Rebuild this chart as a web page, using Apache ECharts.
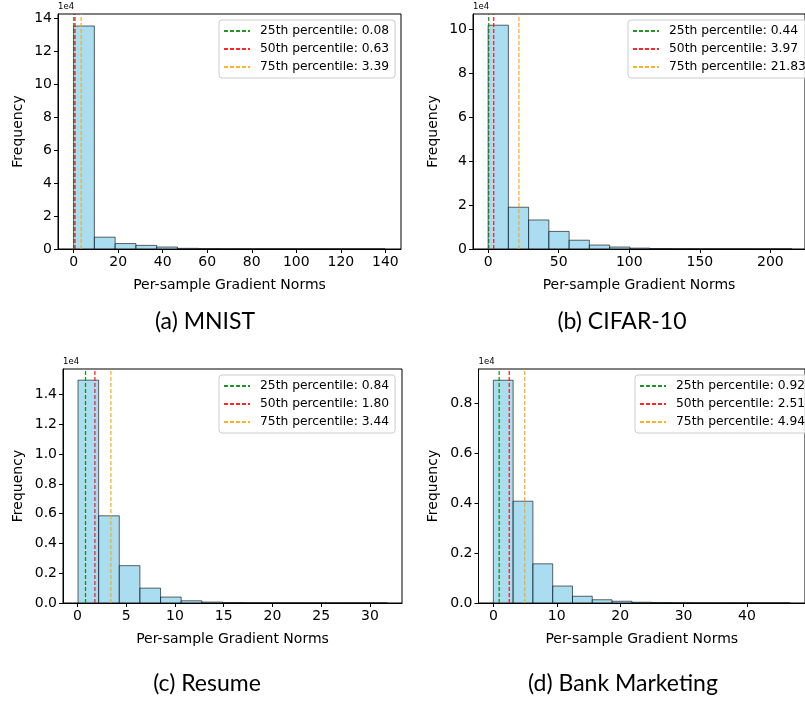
<!DOCTYPE html>
<html>
<head>
<meta charset="utf-8">
<script src="https://cdn.jsdelivr.net/npm/echarts@6/dist/echarts.min.js"></script>
<style>
  html, body { margin: 0; padding: 0; background: #fff; }
  #chart { width: 805px; height: 704px; }
</style>
</head>
<body>
<div id="chart"></div>
<script>
// panel captions
const captions = ["(a) MNIST", "(b) CIFAR-10", "(c) Resume", "(d) Bank Marketing"];

// histogram counts, in units of 1e4 (15 bins each)
const countsMnist = [13.55, 0.72, 0.33, 0.22, 0.12, 0.04, 0.02, 0.012, 0.008, 0.005, 0.004, 0.003, 0.002, 0.002, 0.001];
const countsCifar = [10.18, 1.90, 1.32, 0.80, 0.40, 0.18, 0.09, 0.04, 0.02, 0.01, 0.006, 0.004, 0.003, 0.002, 0.001];
const countsResume = [1.498, 0.586, 0.251, 0.100, 0.040, 0.015, 0.006, 0.003, 0.0015, 0.001, 0.0005, 0.0003, 0.0002, 0.0001, 0.0001];
const countsBank = [0.893, 0.408, 0.157, 0.068, 0.027, 0.013, 0.007, 0.003, 0.002, 0.001, 0.0005, 0.0003, 0.0002, 0.0001, 0.0001];

// first bin edge and bin width
const binStart = [0, 0, 0.07, 0];
const binWidth = [9.33, 14.35, 2.115, 3.12];

// 25th / 50th / 75th percentiles
const pctMnist = [0.08, 0.63, 3.39];
const pctCifar = [0.44, 3.97, 21.83];
const pctResume = [0.84, 1.80, 3.44];
const pctBank = [0.92, 2.51, 4.94];
const pctNames = ["25th percentile", "50th percentile", "75th percentile"];
const pctColors = ["#008000", "#ff0000", "#ffa500"];

// tick labels
const xTicksMnist = [0, 20, 40, 60, 80, 100, 120, 140];
const xTicksCifar = [0, 50, 100, 150, 200];
const xTicksResume = [0, 5, 10, 15, 20, 25, 30];
const xTicksBank = [0, 10, 20, 30, 40];
const yTicksMnist = [0, 2, 4, 6, 8, 10, 12, 14];
const yTicksCifar = [0, 2, 4, 6, 8, 10];
const yTicksResume = [0, 0.2, 0.4, 0.6, 0.8, 1.0, 1.2, 1.4];
const yTicksBank = [0, 0.2, 0.4, 0.6, 0.8];

const panels = [
  { counts: countsMnist, pct: pctMnist, xt: xTicksMnist, yt: yTicksMnist, dec: 0,
    grid: { left: 58, top: 14, width: 343, height: 235 }, xr: [-7, 147], ymax: 14.28,
    leg: [219, 20], nameGap: 33, cap: [205, 310] },
  { counts: countsCifar, pct: pctCifar, xt: xTicksCifar, yt: yTicksCifar, dec: 0,
    grid: { left: 473, top: 14, width: 343, height: 235 }, xr: [-10.7, 224.5], ymax: 10.69,
    leg: [628, 20], nameGap: 33, cap: [622, 310] },
  { counts: countsResume, pct: pctResume, xt: xTicksResume, yt: yTicksResume, dec: 1,
    grid: { left: 63, top: 369, width: 339, height: 234 }, xr: [-1.47, 33.28], ymax: 1.573,
    leg: [219, 375], nameGap: 38, cap: [207, 672] },
  { counts: countsBank, pct: pctBank, xt: xTicksBank, yt: yTicksBank, dec: 1,
    grid: { left: 478.5, top: 369, width: 339.5, height: 234 }, xr: [-2.34, 49.14], ymax: 0.938,
    leg: [635, 375], nameGap: 38, cap: [623, 672] },
];

const font = "DejaVu Sans";
const chart = echarts.init(document.getElementById("chart"), null, { renderer: "canvas" });

const grids = [], xAxes = [], yAxes = [], series = [], legends = [], titles = [];

panels.forEach((p, i) => {
  grids.push(Object.assign({ show: true, borderColor: "#000", borderWidth: 1, containLabel: false }, p.grid));
  xAxes.push({
    type: "value", gridIndex: i, min: p.xr[0], max: p.xr[1],
    name: "Per-sample Gradient Norms", nameLocation: "middle", nameGap: 29,
    nameTextStyle: { fontFamily: font, fontSize: 14, color: "#000" },
    axisLine: { show: true, onZero: false, lineStyle: { color: "#000", width: 1 } },
    axisTick: { show: true, length: 4, customValues: p.xt, lineStyle: { color: "#000" } },
    axisLabel: { customValues: p.xt, margin: 6, fontFamily: font, fontSize: 14, color: "#000" },
    splitLine: { show: false },
  });
  yAxes.push({
    type: "value", gridIndex: i, min: 0, max: p.ymax,
    name: "Frequency", nameLocation: "middle", nameGap: p.nameGap,
    nameTextStyle: { fontFamily: font, fontSize: 14, color: "#000" },
    axisLine: { show: true, onZero: false, lineStyle: { color: "#000", width: 1 } },
    axisTick: { show: true, length: 4, customValues: p.yt, lineStyle: { color: "#000" } },
    axisLabel: { customValues: p.yt, margin: 6, fontFamily: font, fontSize: 14, color: "#000",
      formatter: (v) => v.toFixed(p.dec) },
    splitLine: { show: false },
  });

  const bins = p.counts.map((c, k) => [binStart[i] + k * binWidth[i], binStart[i] + (k + 1) * binWidth[i], c]);
  series.push({
    type: "custom", xAxisIndex: i, yAxisIndex: i, z: 2, silent: true,
    encode: { x: [0, 1], y: 2 },
    data: bins,
    renderItem: (params, api) => {
      const a = api.coord([api.value(0), 0]);
      const b = api.coord([api.value(1), api.value(2)]);
      return {
        type: "rect",
        shape: { x: a[0], y: b[1], width: b[0] - a[0], height: a[1] - b[1] },
        style: { fill: "rgba(135,206,235,0.7)", stroke: "rgba(0,0,0,0.6)", lineWidth: 1 },
      };
    },
  });

  const names = [];
  p.pct.forEach((v, k) => {
    const name = pctNames[k] + ": " + v.toFixed(2);
    names.push(name);
    series.push({
      name: name, type: "line", xAxisIndex: i, yAxisIndex: i, z: 4, silent: true,
      symbol: "none", animation: false,
      data: [[v, 0], [v, p.ymax]],
      color: pctColors[k],
      lineStyle: { color: pctColors[k], width: 1.3, type: [4, 2], opacity: 0.85 },
    });
  });

  legends.push({
    data: names, orient: "vertical", left: p.leg[0], top: p.leg[1],
    itemWidth: 26, itemHeight: 12, itemGap: 6,
    padding: [5, 6, 5, 4],
    borderColor: "#cccccc", borderWidth: 1, borderRadius: 3,
    backgroundColor: "rgba(255,255,255,0.8)",
    selectedMode: false,
    itemStyle: { opacity: 0, borderWidth: 0 },
    textStyle: { fontFamily: font, fontSize: 12.3, color: "#000", padding: [0, 0, 0, 5] },
  });

  titles.push({
    text: "1e4", left: p.grid.left, top: p.grid.top - 12, padding: 0,
    textStyle: { fontFamily: font, fontSize: 8.5, fontWeight: "normal", color: "#000" },
  });
  titles.push({
    text: captions[i], left: p.cap[0], top: p.cap[1], padding: 0, textAlign: "center",
    textStyle: { fontFamily: "Lato", fontSize: 23, fontWeight: "normal", color: "#000" },
  });
});

chart.setOption({
  animation: false,
  backgroundColor: "#fff",
  title: titles,
  grid: grids,
  xAxis: xAxes,
  yAxis: yAxes,
  legend: legends,
  series: series,
});
</script>
</body>
</html>
